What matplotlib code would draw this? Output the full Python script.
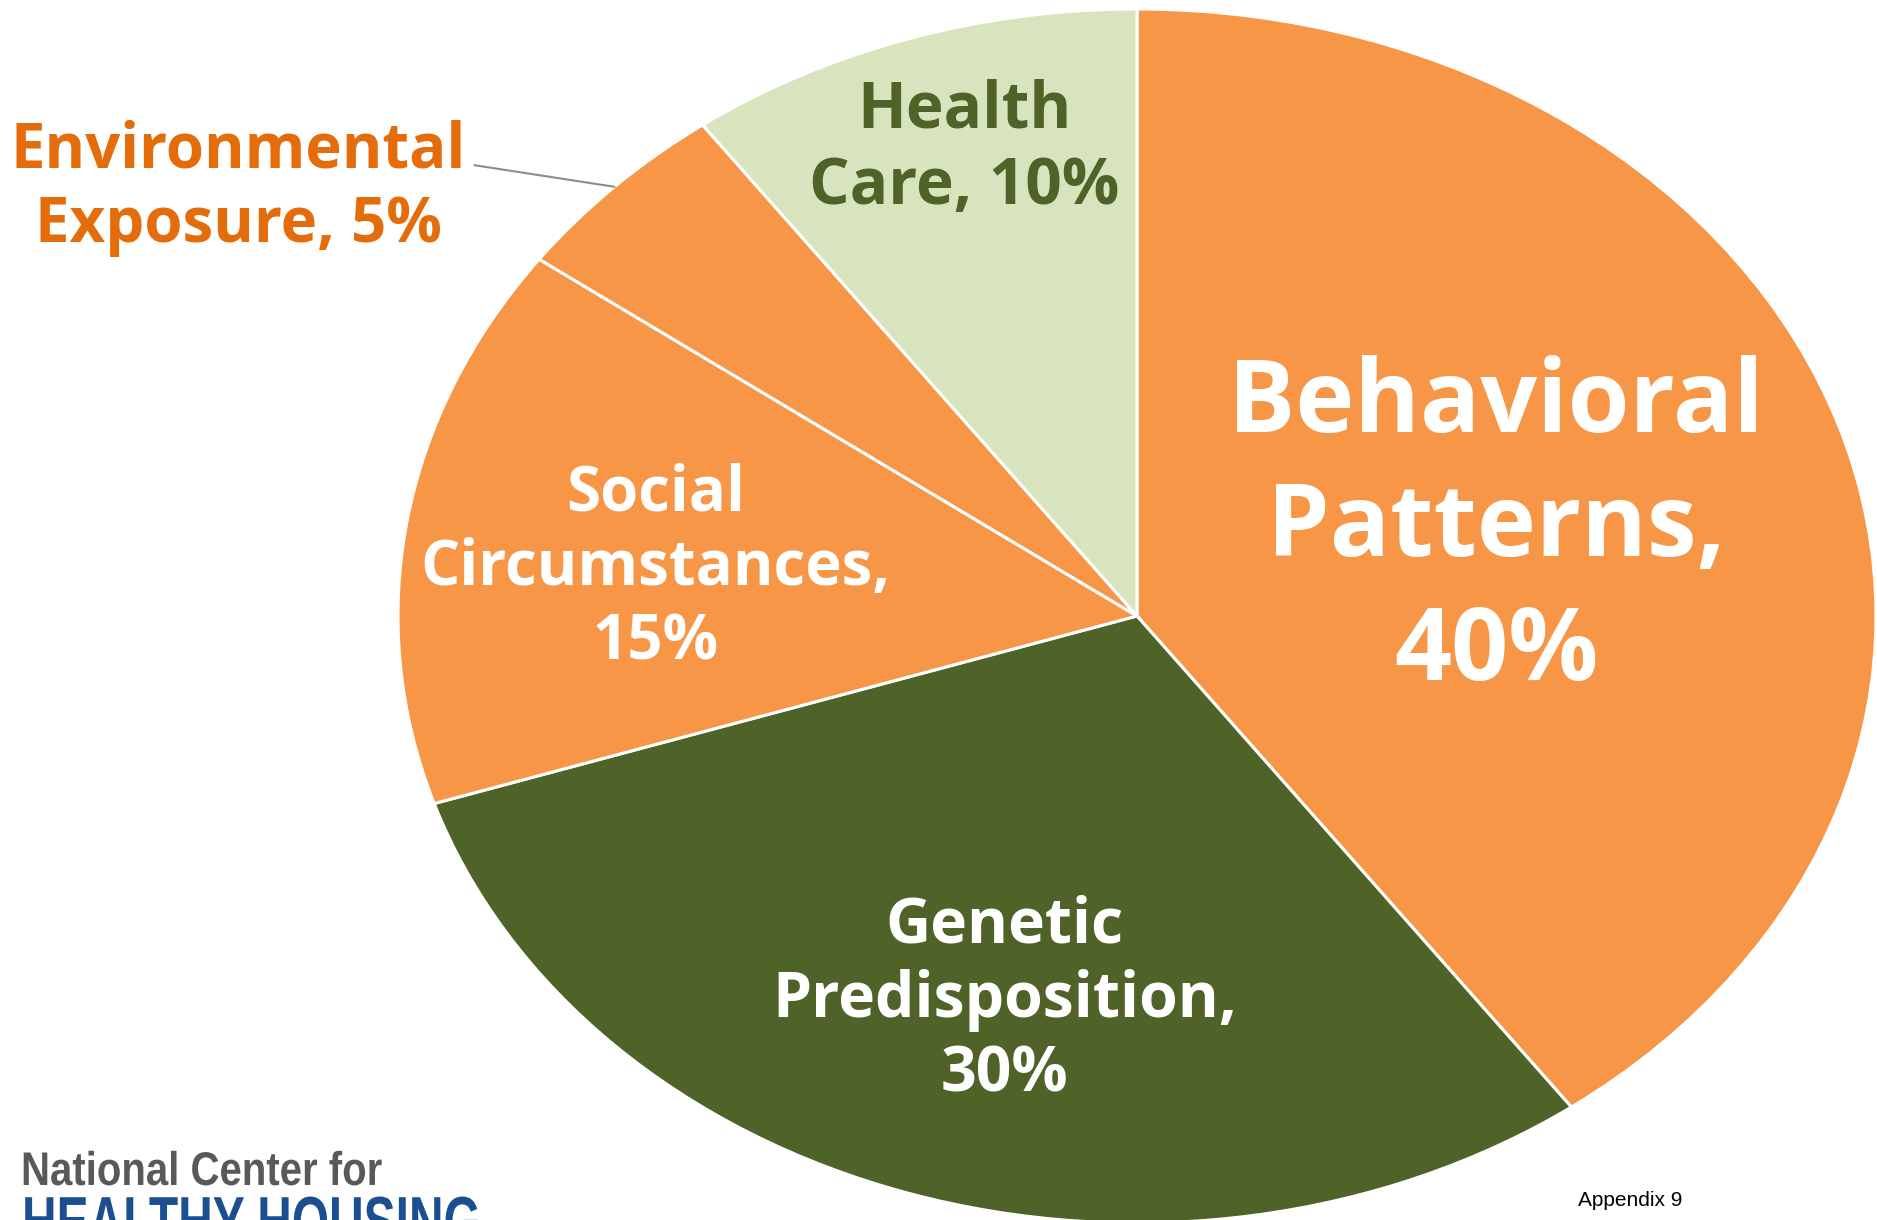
import numpy as np
import matplotlib
matplotlib.use("Agg")
import matplotlib.pyplot as plt
from matplotlib.patheffects import AbstractPathEffect
from matplotlib.transforms import Affine2D

# slice data, clockwise from 12 o'clock
labels = ["Behavioral\nPatterns,\n40%", "Genetic\nPredisposition,\n30%",
          "Social\nCircumstances,\n15%", "Environmental\nExposure, 5%",
          "Health\nCare, 10%"]
shares = [40, 30, 15, 5, 10]
colors = ["#F79646", "#4F6228", "#F79646", "#F79646", "#D7E4BD"]


class Narrow(AbstractPathEffect):
    # squeeze glyphs sideways so the logo text looks condensed
    def __init__(self, sx):
        super().__init__()
        self.sx = sx

    def draw_path(self, renderer, gc, tpath, affine, rgbFace=None):
        renderer.draw_path(gc, tpath, Affine2D().scale(self.sx, 1) + affine, rgbFace)


W, H = 1877, 1220
fig = plt.figure(figsize=(W / 100, H / 100), dpi=100)
ax = fig.add_axes([0, 0, 1, 1])

wedges, _ = ax.pie(shares, colors=colors, startangle=90, counterclock=False,
                   wedgeprops=dict(edgecolor="white", linewidth=2.2))

# pie is drawn stretched: 739 px wide radius, 607 px tall radius
cx, cy, rx, ry = 1137, 616, 739, 607
ax.set_aspect("auto")
ax.set_xlim(-cx / rx, (W - cx) / rx)
ax.set_ylim(-(H - cy) / ry, cy / ry)
ax.axis("off")

font = "Open Sans"
ax.text(0.486, 0.143, labels[0], ha="center", va="center", color="white",
        fontsize=72, fontweight="bold", family=font, linespacing=1.3)
ax.text(-0.179, -0.633, labels[1], ha="center", va="center", color="white",
        fontsize=45, fontweight="bold", family=font, linespacing=1.24)
ax.text(-0.652, 0.078, labels[2], ha="center", va="center", color="white",
        fontsize=44.5, fontweight="bold", family=font, linespacing=1.24)
ax.text(-0.234, 0.769, labels[4], ha="center", va="center", color="#4F6228",
        fontsize=46, fontweight="bold", family=font, linespacing=1.24)

# outside label with a leader line for the small slice
w = wedges[3]
mid = np.deg2rad((w.theta1 + w.theta2) / 2)
ax.annotate(labels[3], xy=(np.cos(mid), np.sin(mid)), xytext=(-1.216, 0.704),
            ha="center", va="center", color="#E46C0A", fontsize=44.5,
            fontweight="bold", family=font, linespacing=1.24,
            arrowprops=dict(arrowstyle="-", color="#8C8C8C", lw=1.5,
                            shrinkA=4, shrinkB=0, relpos=(1.0, 0.68)))

# footer
fig.text(21 / W, 1 - 1185 / H, "National Center for", ha="left", va="baseline",
         color="#58595B", fontsize=34, fontweight="bold",
         family="Liberation Sans", path_effects=[Narrow(0.85)])
fig.text(22 / W, 1 - 1245 / H, "HEALTHY HOUSING", ha="left", va="baseline",
         color="#1B4F8F", fontsize=50, fontweight="bold",
         family="Liberation Sans", path_effects=[Narrow(0.69)])
fig.text(1578 / W, 1 - 1200 / H, "Appendix 9", ha="left", va="center",
         color="black", fontsize=15, family="Liberation Sans")

fig.savefig("out.png", dpi=100)
